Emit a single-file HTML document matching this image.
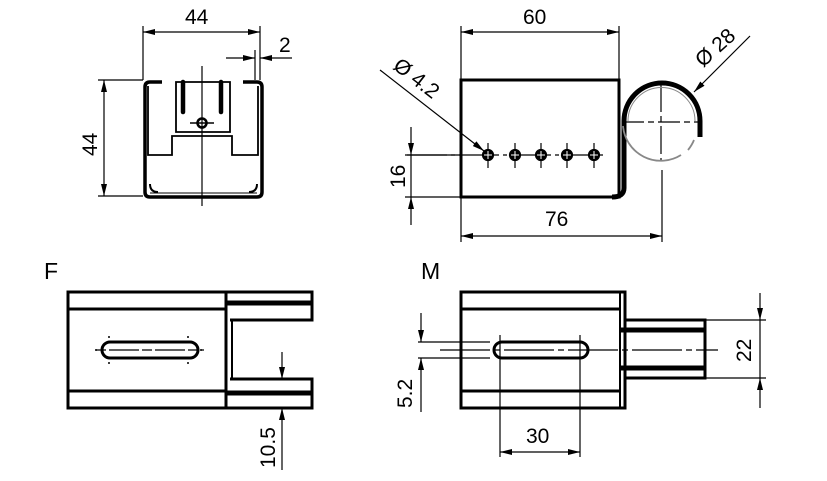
<!DOCTYPE html>
<html><head><style>
html,body{margin:0;padding:0;background:#fff;}
svg{display:block}
text{font-family:"Liberation Sans",sans-serif;fill:#000}
</style></head><body>
<svg width="827" height="481" viewBox="0 0 827 481" xmlns="http://www.w3.org/2000/svg">
<defs>
<marker id="a" viewBox="0 0 12 6" refX="12" refY="3" markerWidth="12" markerHeight="6" orient="auto-start-reverse" markerUnits="userSpaceOnUse"><path d="M0,0 L12,3 L0,6 z" fill="#000"/></marker>
</defs>
<g stroke="#000" fill="none">
<g stroke-width="1.2">
<line x1="143" y1="26" x2="143" y2="80"/>
<line x1="260" y1="26" x2="260" y2="80"/>
<line x1="143" y1="32" x2="260" y2="32" marker-start="url(#a)" marker-end="url(#a)"/>
<line x1="255" y1="50" x2="255" y2="80"/>
<line x1="226" y1="58" x2="255" y2="58" marker-end="url(#a)"/>
<line x1="292" y1="58" x2="260" y2="58" marker-end="url(#a)"/>
<line x1="98" y1="80" x2="143" y2="80"/>
<line x1="98" y1="196" x2="143" y2="196"/>
<line x1="104" y1="80" x2="104" y2="196" marker-start="url(#a)" marker-end="url(#a)"/>
<line x1="202" y1="66" x2="202" y2="206"/>
</g>
<path d="M162,82 L150,82 Q145,82 145,87 L145,192 Q145,197 150,197 L257,197 Q262,197 262,192 L262,87 Q262,82 257,82 L243,82" stroke-width="3.5"/>
<path d="M148,86 L148,155 L172,155 L172,136 L232,136 L232,155 L258,155 L258,86" stroke-width="1.8"/>
<path d="M176,82 L176,132 L230,132 L230,82 Z" stroke-width="1.8"/>
<line x1="150" y1="193" x2="257" y2="193" stroke-width="1"/>
<line x1="183" y1="82" x2="183" y2="112" stroke-width="4.5" stroke-linecap="round"/>
<line x1="221" y1="82" x2="221" y2="112" stroke-width="4.5" stroke-linecap="round"/>
<circle cx="202" cy="123" r="4.5" stroke-width="2.5"/>
<line x1="190" y1="123" x2="214" y2="123" stroke-width="1.5"/>
<path d="M150,184 Q150,192 158,192 M257,184 Q257,192 249,192" stroke-width="2"/>

<g stroke-width="1.2">
<line x1="461" y1="26" x2="461" y2="80"/>
<line x1="619" y1="26" x2="619" y2="80"/>
<line x1="461" y1="32" x2="619" y2="32" marker-start="url(#a)" marker-end="url(#a)"/>
<line x1="461" y1="197" x2="461" y2="242"/>
<line x1="662" y1="170" x2="662" y2="242"/>
<line x1="461" y1="236" x2="662" y2="236" marker-start="url(#a)" marker-end="url(#a)"/>
<line x1="405" y1="155" x2="461" y2="155"/>
<line x1="405" y1="197" x2="461" y2="197"/>
<line x1="411" y1="127" x2="411" y2="155" marker-end="url(#a)"/>
<line x1="411" y1="225" x2="411" y2="197" marker-end="url(#a)"/>
<line x1="411" y1="155" x2="411" y2="197"/>
<line x1="407" y1="155" x2="606" y2="155" stroke-dasharray="40 4 4 4"/>
<line x1="380" y1="70" x2="484" y2="151" marker-end="url(#a)"/>
<line x1="750" y1="36" x2="694" y2="92" marker-end="url(#a)"/>
<line x1="622" y1="122" x2="702" y2="122" stroke-dasharray="22 4 6 4"/>
<line x1="661" y1="84" x2="661" y2="160" stroke-dasharray="28 4 6 4"/>
</g>
<rect x="461" y="80" width="158" height="117" stroke-width="3"/>
<path d="M612,197 Q624,197 624,188 L624,121 A38,38 0 0 1 700,121 L700,137" stroke-width="5"/>
<path d="M628,121 A33,33 0 0 1 695,121" stroke-width="1" stroke="#888"/>
<path d="M623,126 A38,38 0 0 0 681,155" stroke="#888" stroke-width="1.8"/>
<path d="M688,150 A38,38 0 0 0 694,140" stroke="#888" stroke-width="1.8"/>
<g fill="#000" stroke-width="1.2">
<circle cx="488" cy="155" r="5.5"/><circle cx="515" cy="155" r="5.5"/><circle cx="541" cy="155" r="5.5"/><circle cx="567" cy="155" r="5.5"/><circle cx="594" cy="155" r="5.5"/>
</g>
<g stroke-width="1.2">
<line x1="488" y1="143" x2="488" y2="168"/><line x1="515" y1="143" x2="515" y2="168"/><line x1="541" y1="143" x2="541" y2="168"/><line x1="567" y1="143" x2="567" y2="168"/><line x1="594" y1="143" x2="594" y2="168"/>
</g>
<g stroke="#fff" stroke-width="1">
<line x1="488" y1="151" x2="488" y2="159"/><line x1="484" y1="155" x2="492" y2="155"/>
<line x1="515" y1="151" x2="515" y2="159"/><line x1="511" y1="155" x2="519" y2="155"/>
<line x1="541" y1="151" x2="541" y2="159"/><line x1="537" y1="155" x2="545" y2="155"/>
<line x1="567" y1="151" x2="567" y2="159"/><line x1="563" y1="155" x2="571" y2="155"/>
<line x1="594" y1="151" x2="594" y2="159"/><line x1="590" y1="155" x2="598" y2="155"/>
</g>

<rect x="68" y="292" width="158" height="116" stroke-width="3"/>
<line x1="68" y1="309" x2="226" y2="309" stroke-width="3"/>
<line x1="68" y1="391" x2="226" y2="391" stroke-width="3"/>
<path d="M226,292 L312,292 L312,320 L230,320" stroke-width="3"/>
<line x1="226" y1="303" x2="312" y2="303" stroke-width="5"/>
<path d="M226,408 L312,408 L312,379 L230,379" stroke-width="3"/>
<line x1="226" y1="393" x2="312" y2="393" stroke-width="5"/>
<line x1="226" y1="292" x2="226" y2="408" stroke-width="3"/>
<line x1="232" y1="320" x2="232" y2="379" stroke-width="2"/>
<rect x="102" y="342" width="96" height="16" rx="8" stroke-width="3"/>
<line x1="96" y1="350" x2="204" y2="350" stroke-width="1.2" stroke-dasharray="10 3 30 3"/>
<g fill="#000" stroke="none"><circle cx="109" cy="337" r="1"/><circle cx="109" cy="363" r="1"/><circle cx="188" cy="337" r="1"/><circle cx="188" cy="363" r="1"/><circle cx="96" cy="350" r="1"/><circle cx="201" cy="350" r="1"/></g>
<g stroke-width="1.2">
<line x1="282" y1="352" x2="282" y2="379" marker-end="url(#a)"/>
<line x1="282" y1="470" x2="282" y2="408" marker-end="url(#a)"/>
</g>

<rect x="461" y="292" width="164" height="116" stroke-width="3"/>
<line x1="461" y1="309" x2="620" y2="309" stroke-width="3"/>
<line x1="461" y1="391" x2="620" y2="391" stroke-width="3"/>
<line x1="620" y1="292" x2="620" y2="408" stroke-width="2"/>
<path d="M625,320 L705,320 L705,378 L625,378" stroke-width="3"/>
<line x1="620" y1="330" x2="705" y2="330" stroke-width="5"/>
<line x1="620" y1="368" x2="705" y2="368" stroke-width="5"/>
<rect x="494" y="342" width="94" height="16" rx="8" stroke-width="3"/>
<g stroke-width="1.2">
<line x1="440" y1="350" x2="718" y2="350" stroke-dasharray="50 4 6 4"/>
<line x1="418" y1="342" x2="490" y2="342"/>
<line x1="418" y1="358" x2="490" y2="358"/>
<line x1="421" y1="313" x2="421" y2="342" marker-end="url(#a)"/>
<line x1="421" y1="412" x2="421" y2="358" marker-end="url(#a)"/>
<line x1="500" y1="335" x2="500" y2="457"/>
<line x1="580" y1="335" x2="580" y2="457"/>
<line x1="500" y1="452" x2="580" y2="452" marker-start="url(#a)" marker-end="url(#a)"/>
<line x1="705" y1="320" x2="766" y2="320"/>
<line x1="705" y1="378" x2="766" y2="378"/>
<line x1="760" y1="293" x2="760" y2="320" marker-end="url(#a)"/>
<line x1="760" y1="408" x2="760" y2="378" marker-end="url(#a)"/>
<line x1="760" y1="320" x2="760" y2="378"/>
</g>
</g>

<g font-size="21">
<text x="185" y="24">44</text>
<text x="279" y="52">2</text>
<text transform="translate(97,156) rotate(-90)">44</text>
<text x="523" y="24">60</text>
<text x="545" y="226">76</text>
<text transform="translate(405,188) rotate(-90)">16</text>
<text transform="translate(392,68) rotate(38)">Ø 4.2</text>
<text transform="translate(703,68) rotate(-42)">Ø 28</text>
<text x="44" y="279" font-size="23">F</text>
<text x="421" y="279" font-size="23">M</text>
<text transform="translate(275,468) rotate(-90)">10.5</text>
<text transform="translate(412,408) rotate(-90)">5.2</text>
<text x="526" y="443">30</text>
<text transform="translate(751,362) rotate(-90)">22</text>
</g>
</svg>
</body></html>
